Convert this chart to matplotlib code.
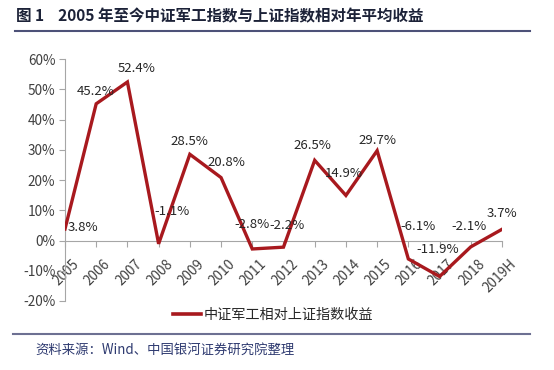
import matplotlib
matplotlib.use('Agg')
import matplotlib.pyplot as plt
from matplotlib.lines import Line2D
from matplotlib.transforms import ScaledTranslation

plt.rcParams['font.family'] = ['Noto Sans CJK SC', 'DejaVu Sans']

YEARS = ['2005', '2006', '2007', '2008', '2009', '2010', '2011', '2012',
         '2013', '2014', '2015', '2016', '2017', '2018', '2019H']
RETURNS = [3.8, 45.2, 52.4, -1.1, 28.5, 20.8, -2.8, -2.2,
           26.5, 14.9, 29.7, -6.1, -11.9, -2.1, 3.7]
Y_TICKS = [-20, -10, 0, 10, 20, 30, 40, 50, 60]

TITLE = '图 1    2005 年至今中证军工指数与上证指数相对年平均收益'
SERIES = '中证军工相对上证指数收益'
SOURCE = '资料来源：Wind、中国银河证券研究院整理'

# label offsets in pixels (dx, dy up) per point
LABEL_OFFSETS = [(18, 2), (-1, 12), (9, 14), (13, 32), (0, 13), (5, 15),
                 (0, 24), (4, 22), (-2, 15), (-2, 22), (0, 10), (10, 32),
                 (-2, 27), (-2, 20), (0, 16)]

RED = '#a8191e'
GRAY = '#a6a6a6'
TXT = '#404040'

fig = plt.figure(figsize=(5.54, 3.70), dpi=100)
ax = fig.add_axes([0.1173, 0.1865, 0.7888, 0.654])

for s in ['top', 'right']:
    ax.spines[s].set_visible(False)
ax.spines['left'].set_color(GRAY)
ax.spines['bottom'].set_color(GRAY)
ax.spines['bottom'].set_position(('data', 0))

x = list(range(len(YEARS)))
ax.plot(x, RETURNS, color=RED, lw=2.4, solid_joinstyle='miter', zorder=3)

for i, v in enumerate(RETURNS):
    dx, dy = LABEL_OFFSETS[i]
    ax.annotate('{:.1f}%'.format(v), (i, v), xytext=(dx, dy),
                textcoords='offset pixels', ha='center', va='center',
                fontsize=9.5, color='#262626', zorder=4)

ax.set_xlim(0, len(YEARS) - 1)
ax.set_ylim(-20, 60)
ax.set_yticks(Y_TICKS)
ax.set_yticklabels(['{}%'.format(t) for t in Y_TICKS], fontsize=9.8, color=TXT)
ax.set_xticks(x)
ax.set_xticklabels(YEARS, fontsize=9.8, color=TXT)
ax.tick_params(axis='y', length=4, color=GRAY, pad=3)
ax.tick_params(axis='x', length=4, color=GRAY, pad=8)

off = ScaledTranslation(7 / 100, 0, fig.dpi_scale_trans)
for lab in ax.get_xticklabels():
    lab.set_rotation(45)
    lab.set_ha('right')
    lab.set_rotation_mode('anchor')
    lab.set_transform(lab.get_transform() + off)

# legend
leg = [Line2D([0], [0], color=RED, lw=2.6)]
fig.legend(leg, [SERIES], loc='center', bbox_to_anchor=(273 / 554, 1 - 315 / 370),
           frameon=False, fontsize=10.2, handlelength=2.0, handletextpad=0.15,
           labelcolor='#262626')

# title, rules, source
fig.text(16 / 554, 1 - 16 / 370, TITLE, fontsize=11.2, fontweight='bold',
         color='#1c2238', ha='left', va='center')
fig.add_artist(Line2D([15 / 554, 530 / 554], [1 - 31 / 370] * 2,
                      color='#4d5178', lw=1.5))
fig.add_artist(Line2D([13 / 554, 530 / 554], [1 - 334 / 370] * 2,
                      color='#6d7092', lw=1.5))
fig.text(35 / 554, 1 - 350 / 370, SOURCE, fontsize=9.6, style='italic',
         color='#2e3a70', ha='left', va='center')

plt.savefig('out.png', dpi=100)
